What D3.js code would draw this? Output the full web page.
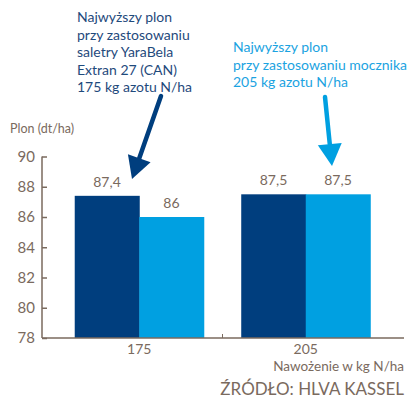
<!DOCTYPE html>
<html>
<head>
<meta charset="utf-8">
<script src="https://cdn.jsdelivr.net/npm/d3@7"></script>
<style>
  body { margin: 0; background: #fff; }
  svg text { font-family: Lato, "Open Sans", sans-serif; }
</style>
</head>
<body>
<svg class="chart" width="408" height="401"></svg>
<script>
const doses = ['175', '205']
const series = ['saletra', 'mocznik']
const saletraValues = [87.4, 87.5]
const mocznikValues = [86, 87.5]
const yTicks = [78, 80, 82, 84, 86, 88, 90]
const colors = ['#003e7e', '#00a0e1']
const axisColor = '#7a6a5e'

const data = doses.map((d, i) => ({dose: d, values: [saletraValues[i], mocznikValues[i]]}))

const svg = d3.select('.chart')

const x = d3.scaleBand(doses, [56, 389]).paddingInner(0.225).paddingOuter(0.1125)
const inner = d3.scaleBand(series, [0, x.bandwidth()])
const y = d3.scaleLinear([78, 90], [338, 156.5])

// bars
const groups = svg.selectAll('g.group')
    .data(data)
    .join('g')
        .attr('class', 'group')
        .attr('transform', d => `translate(${x(d.dose)},0)`)

groups.selectAll('rect')
    .data(d => d.values.map((v, i) => ({s: series[i], v})))
    .join('rect')
        .attr('x', d => inner(d.s))
        .attr('y', d => y(d.v))
        .attr('width', inner.bandwidth() + 0.5)
        .attr('height', d => y(78) - y(d.v))
        .attr('fill', (d, i) => colors[i])

groups.selectAll('text.val')
    .data(d => d.values.map((v, i) => ({s: series[i], v})))
    .join('text')
        .attr('class', 'val')
        .attr('x', d => inner(d.s) + inner.bandwidth() / 2)
        .attr('y', d => y(d.v) - 9)
        .attr('text-anchor', 'middle')
        .attr('font-size', '14px')
        .attr('fill', axisColor)
        .text(d => String(d.v).replace('.', ','))

// y axis
const yAxis = d3.axisRight(y).tickValues(yTicks).tickSize(5).tickFormat(d => d)
const yg = svg.append('g')
    .attr('transform', 'translate(42,0)')
    .call(yAxis)
yg.select('.domain').attr('stroke', axisColor).attr('stroke-width', 1.5).attr('d', 'M0,156.5V338')
yg.selectAll('.tick line').attr('stroke', axisColor).attr('stroke-width', 1.5)
yg.selectAll('.tick text')
    .attr('x', -7)
    .attr('text-anchor', 'end')
    .attr('font-size', '15px')
    .attr('fill', axisColor)
    .attr('font-family', 'Lato, sans-serif')

// x axis
const xAxis = d3.axisBottom(x).tickSize(0).tickPadding(6)
const xg = svg.append('g')
    .attr('transform', 'translate(0,338)')
    .call(xAxis)
xg.select('.domain').attr('stroke', axisColor).attr('stroke-width', 1.5).attr('d', 'M42,0H404')
xg.selectAll('.tick text')
    .attr('font-size', '14px')
    .attr('fill', axisColor)
    .attr('font-family', 'Lato, sans-serif')
xg.append('line')
    .attr('x1', (x(doses[0]) + x(doses[1]) + x.bandwidth()) / 2)
    .attr('x2', (x(doses[0]) + x(doses[1]) + x.bandwidth()) / 2)
    .attr('y1', 0).attr('y2', -4)
    .attr('stroke', axisColor)

svg.append('text')
    .text('Plon (dt/ha)')
    .attr('x', 10).attr('y', 133)
    .attr('font-size', '12.5px')
    .attr('fill', axisColor)

svg.append('text')
    .text('Nawożenie w kg N/ha')
    .attr('x', 404).attr('y', 371)
    .attr('text-anchor', 'end')
    .attr('font-size', '13.5px')
    .attr('fill', axisColor)

svg.append('text')
    .text('ŹRÓDŁO: HLVA KASSEL')
    .attr('x', 404).attr('y', 395)
    .attr('text-anchor', 'end')
    .attr('font-size', '17px')
    .attr('fill', axisColor)

// annotations
const noteDark = ['Najwyższy plon', 'przy zastosowaniu', 'saletry YaraBela', 'Extran 27 (CAN)', '175 kg azotu N/ha']
const noteLight = ['Najwyższy plon', 'przy zastosowaniu mocznika', '205 kg azotu N/ha']

svg.append('text')
    .attr('font-size', '14px')
    .attr('fill', '#1f4a7c')
    .selectAll('tspan')
    .data(noteDark)
    .join('tspan')
        .attr('x', 77)
        .attr('y', (d, i) => 22 + i * 17.5)
        .text(d => d)

svg.append('text')
    .attr('font-size', '14px')
    .attr('fill', '#1ba3e1')
    .selectAll('tspan')
    .data(noteLight)
    .join('tspan')
        .attr('x', 233)
        .attr('y', (d, i) => 52 + i * 17.5)
        .text(d => d)

// arrows
function arrow(x1, y1, x2, y2, color) {
    const ang = Math.atan2(y2 - y1, x2 - x1)
    const len = 22, half = 12
    const bx = x2 - len * Math.cos(ang), by = y2 - len * Math.sin(ang)
    svg.append('line')
        .attr('x1', x1).attr('y1', y1).attr('x2', bx).attr('y2', by)
        .attr('stroke', color).attr('stroke-width', 4.5).attr('stroke-linecap', 'round')
    svg.append('path')
        .attr('d', `M${x2},${y2}L${bx + half * Math.sin(ang)},${by - half * Math.cos(ang)}L${bx - half * Math.sin(ang)},${by + half * Math.cos(ang)}Z`)
        .attr('fill', color)
}
arrow(161, 96, 132, 179, colors[0])
arrow(325, 97, 332, 166, colors[1])
</script>
</body>
</html>
